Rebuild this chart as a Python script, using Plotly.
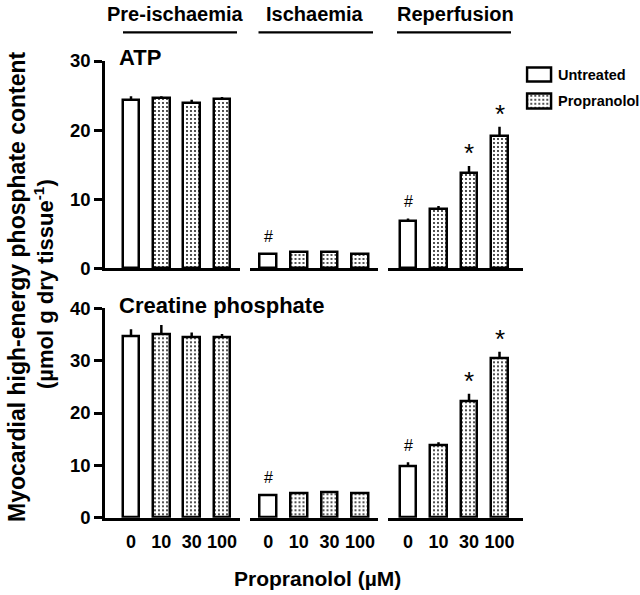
import plotly.graph_objects as go

W, H = 640, 595

# ---------------- data ----------------
doses = ["0", "10", "30", "100"]
phases = ["Pre-ischaemia", "Ischaemia", "Reperfusion"]
legend_names = ["Untreated", "Propranolol"]

atp_pre = [24.3, 24.6, 23.9, 24.5]
atp_pre_err = [0.6, 0.3, 0.5, 0.3]
atp_isch = [2.0, 2.3, 2.3, 2.0]
atp_isch_err = [0.2, 0.15, 0.2, 0.15]
atp_rep = [6.8, 8.6, 13.8, 19.2]
atp_rep_err = [0.4, 0.4, 1.0, 1.3]

cp_pre = [34.7, 35.1, 34.4, 34.4]
cp_pre_err = [1.3, 1.7, 1.0, 0.7]
cp_isch = [4.2, 4.6, 4.8, 4.6]
cp_isch_err = [0.2, 0.2, 0.2, 0.2]
cp_rep = [9.8, 13.9, 22.2, 30.5]
cp_rep_err = [0.8, 0.5, 1.5, 1.2]

atp_marks = [["", "", "", ""], ["#", "", "", ""], ["#", "", "*", "*"]]
cp_marks = [["", "", "", ""], ["#", "", "", ""], ["#", "", "*", "*"]]

panel_names = ["ATP", "Creatine phosphate"]
y_max = [30, 40]
y_ticks = [[0, 10, 20, 30], [0, 10, 20, 30, 40]]

# ---------------- layout helpers ----------------
def fx(px):
    return px / W

def fy(py):
    return 1 - py / H

FONT = "Liberation Sans, Arial, Helvetica, sans-serif"
col_px = [(105, 240), (249.5, 378), (388, 523)]
col_range = [[-0.857, 3.593], [-0.615, 3.589], [-0.656, 3.77]]
row_px = [(61, 268.3), (308.3, 517.7)]  # top (y max) , bottom (y=0)

fill_shapes = ["", ".", ".", "."]
PAT = dict(fgcolor="black", bgcolor="white", size=4, solidity=0.16)

fig = go.Figure()

panels = [
    [(atp_pre, atp_pre_err), (atp_isch, atp_isch_err), (atp_rep, atp_rep_err)],
    [(cp_pre, cp_pre_err), (cp_isch, cp_isch_err), (cp_rep, cp_rep_err)],
]
marks = [atp_marks, cp_marks]

layout = dict(
    template="none",
    width=W, height=H, margin=dict(l=0, r=0, t=0, b=0, pad=0),
    paper_bgcolor="white", plot_bgcolor="rgba(0,0,0,0)",
    showlegend=False, bargap=0,
    font=dict(family=FONT, color="black"),
)
annotations = []
shapes = []

for r in range(2):
    for c in range(3):
        n = r * 3 + c + 1
        xa = "x" if n == 1 else f"x{n}"
        ya = "y" if n == 1 else f"y{n}"
        vals, errs = panels[r][c]
        fig.add_trace(go.Bar(
            x=doses, y=vals, xaxis=xa, yaxis=ya, width=0.55,
            marker=dict(
                color="white",
                line=dict(color="black", width=2.5),
                pattern=dict(shape=fill_shapes, **PAT),
            ),
            error_y=dict(type="data", symmetric=False, array=errs,
                         arrayminus=[0] * len(errs), color="black",
                         thickness=2.5, width=0),
            hoverinfo="skip",
        ))
        for i, (v, e, m) in enumerate(zip(vals, errs, marks[r][c])):
            if m:
                annotations.append(dict(
                    x=i, y=v + e, xref=xa, yref=ya, text=m, showarrow=False,
                    yanchor="middle",
                    yshift=17 if m == "#" else 13,
                    font=dict(size=16 if m == "#" else 26, family=FONT, color="black"),
                ))
        x0, x1 = col_px[c]
        ytop, ybot = row_px[r]
        layout[f"xaxis{'' if n == 1 else n}"] = dict(
            domain=[fx(x0), fx(x1)], anchor=ya, type="category",
            range=col_range[c], showline=True, linewidth=2.5, linecolor="black",
            ticks="", showgrid=False, zeroline=False, fixedrange=True,
            automargin=False,
            showticklabels=(r == 1), ticklabelstandoff=6,
            tickfont=dict(size=18, family=FONT, weight="bold", color="black"),
        )
        layout[f"yaxis{'' if n == 1 else n}"] = dict(
            domain=[fy(ybot), fy(ytop)], anchor=xa, range=[0, y_max[r]],
            showgrid=False, zeroline=False, fixedrange=True, automargin=False,
            showline=(c == 0), linewidth=2.5, linecolor="black",
            ticks="outside" if c == 0 else "", ticklen=8, tickwidth=2.5,
            tickcolor="black", tickvals=y_ticks[r],
            showticklabels=(c == 0),
            tickfont=dict(size=18.5, family=FONT, weight="bold", color="black"),
        )

# ---------------- legend (patterned boxes as bars) ----------------
fig.add_trace(go.Bar(
    y=[1, 0], x=[1, 1], orientation="h", xaxis="x7", yaxis="y7", width=0.56,
    marker=dict(color="white", line=dict(color="black", width=2.5),
                pattern=dict(shape=["", "."], **PAT)),
    hoverinfo="skip",
))
lx0, lx1 = 527.7, 551.7
pad = (lx1 - lx0) * 0.1
layout["xaxis7"] = dict(domain=[fx(lx0 - pad), fx(lx1 + pad)], range=[-0.1, 1.1],
                        visible=False, anchor="y7", fixedrange=True, automargin=False)
c_top, c_bot = 74.85, 101.0
step = c_bot - c_top
layout["yaxis7"] = dict(domain=[fy(c_bot + step / 2), fy(c_top - step / 2)],
                        range=[-0.5, 1.5], visible=False, anchor="x7",
                        fixedrange=True, automargin=False)
for name, cy in zip(legend_names, [c_top, c_bot]):
    annotations.append(dict(
        x=fx(556), y=fy(cy), xref="paper", yref="paper", text=name,
        showarrow=False, xanchor="left", yanchor="middle",
        font=dict(size=14.5, family=FONT, weight="bold", color="black"),
    ))

# ---------------- phase headers ----------------
head_cx = [175, 315, 455]
line_px = [(123, 237), (258.5, 373), (397, 511)]
for name, cx, (l0, l1) in zip(phases, head_cx, line_px):
    annotations.append(dict(
        x=fx(cx), y=fy(14), xref="paper", yref="paper", text=name,
        showarrow=False, xanchor="center", yanchor="middle",
        font=dict(size=20, family=FONT, weight="bold", color="black"),
    ))
    shapes.append(dict(type="line", xref="paper", yref="paper",
                       x0=fx(l0), x1=fx(l1), y0=fy(32.3), y1=fy(32.3),
                       line=dict(color="black", width=2.2)))

# panel labels
for name, cy in zip(panel_names, [58, 306]):
    annotations.append(dict(
        x=fx(117), y=fy(cy), xref="paper", yref="paper", text=name,
        showarrow=False, xanchor="left", yanchor="middle",
        font=dict(size=22, family=FONT, weight="bold", color="black"),
    ))

# axis titles
annotations.append(dict(
    x=fx(17), y=fy(287), xref="paper", yref="paper",
    text="Myocardial high-energy phosphate content", textangle=-90,
    showarrow=False, xanchor="center", yanchor="middle",
    font=dict(size=23, family=FONT, weight="bold", color="black"),
))
annotations.append(dict(
    x=fx(44), y=fy(284), xref="paper", yref="paper",
    text="(\u00b5mol g dry tissue<sup>-1</sup>)", textangle=-90,
    showarrow=False, xanchor="center", yanchor="middle",
    font=dict(size=22, family=FONT, weight="bold", color="black"),
))
annotations.append(dict(
    x=fx(317), y=fy(578), xref="paper", yref="paper",
    text="Propranolol (\u00b5M)", showarrow=False,
    xanchor="center", yanchor="middle",
    font=dict(size=21, family=FONT, weight="bold", color="black"),
))

layout["annotations"] = annotations
layout["shapes"] = shapes
fig.update_layout(**layout)
fig.write_html(
    "out.html",
    config={"displayModeBar": False},
    post_script="document.body.style.margin='0';document.body.style.padding='0';"
                "document.body.style.overflow='hidden';",
)
